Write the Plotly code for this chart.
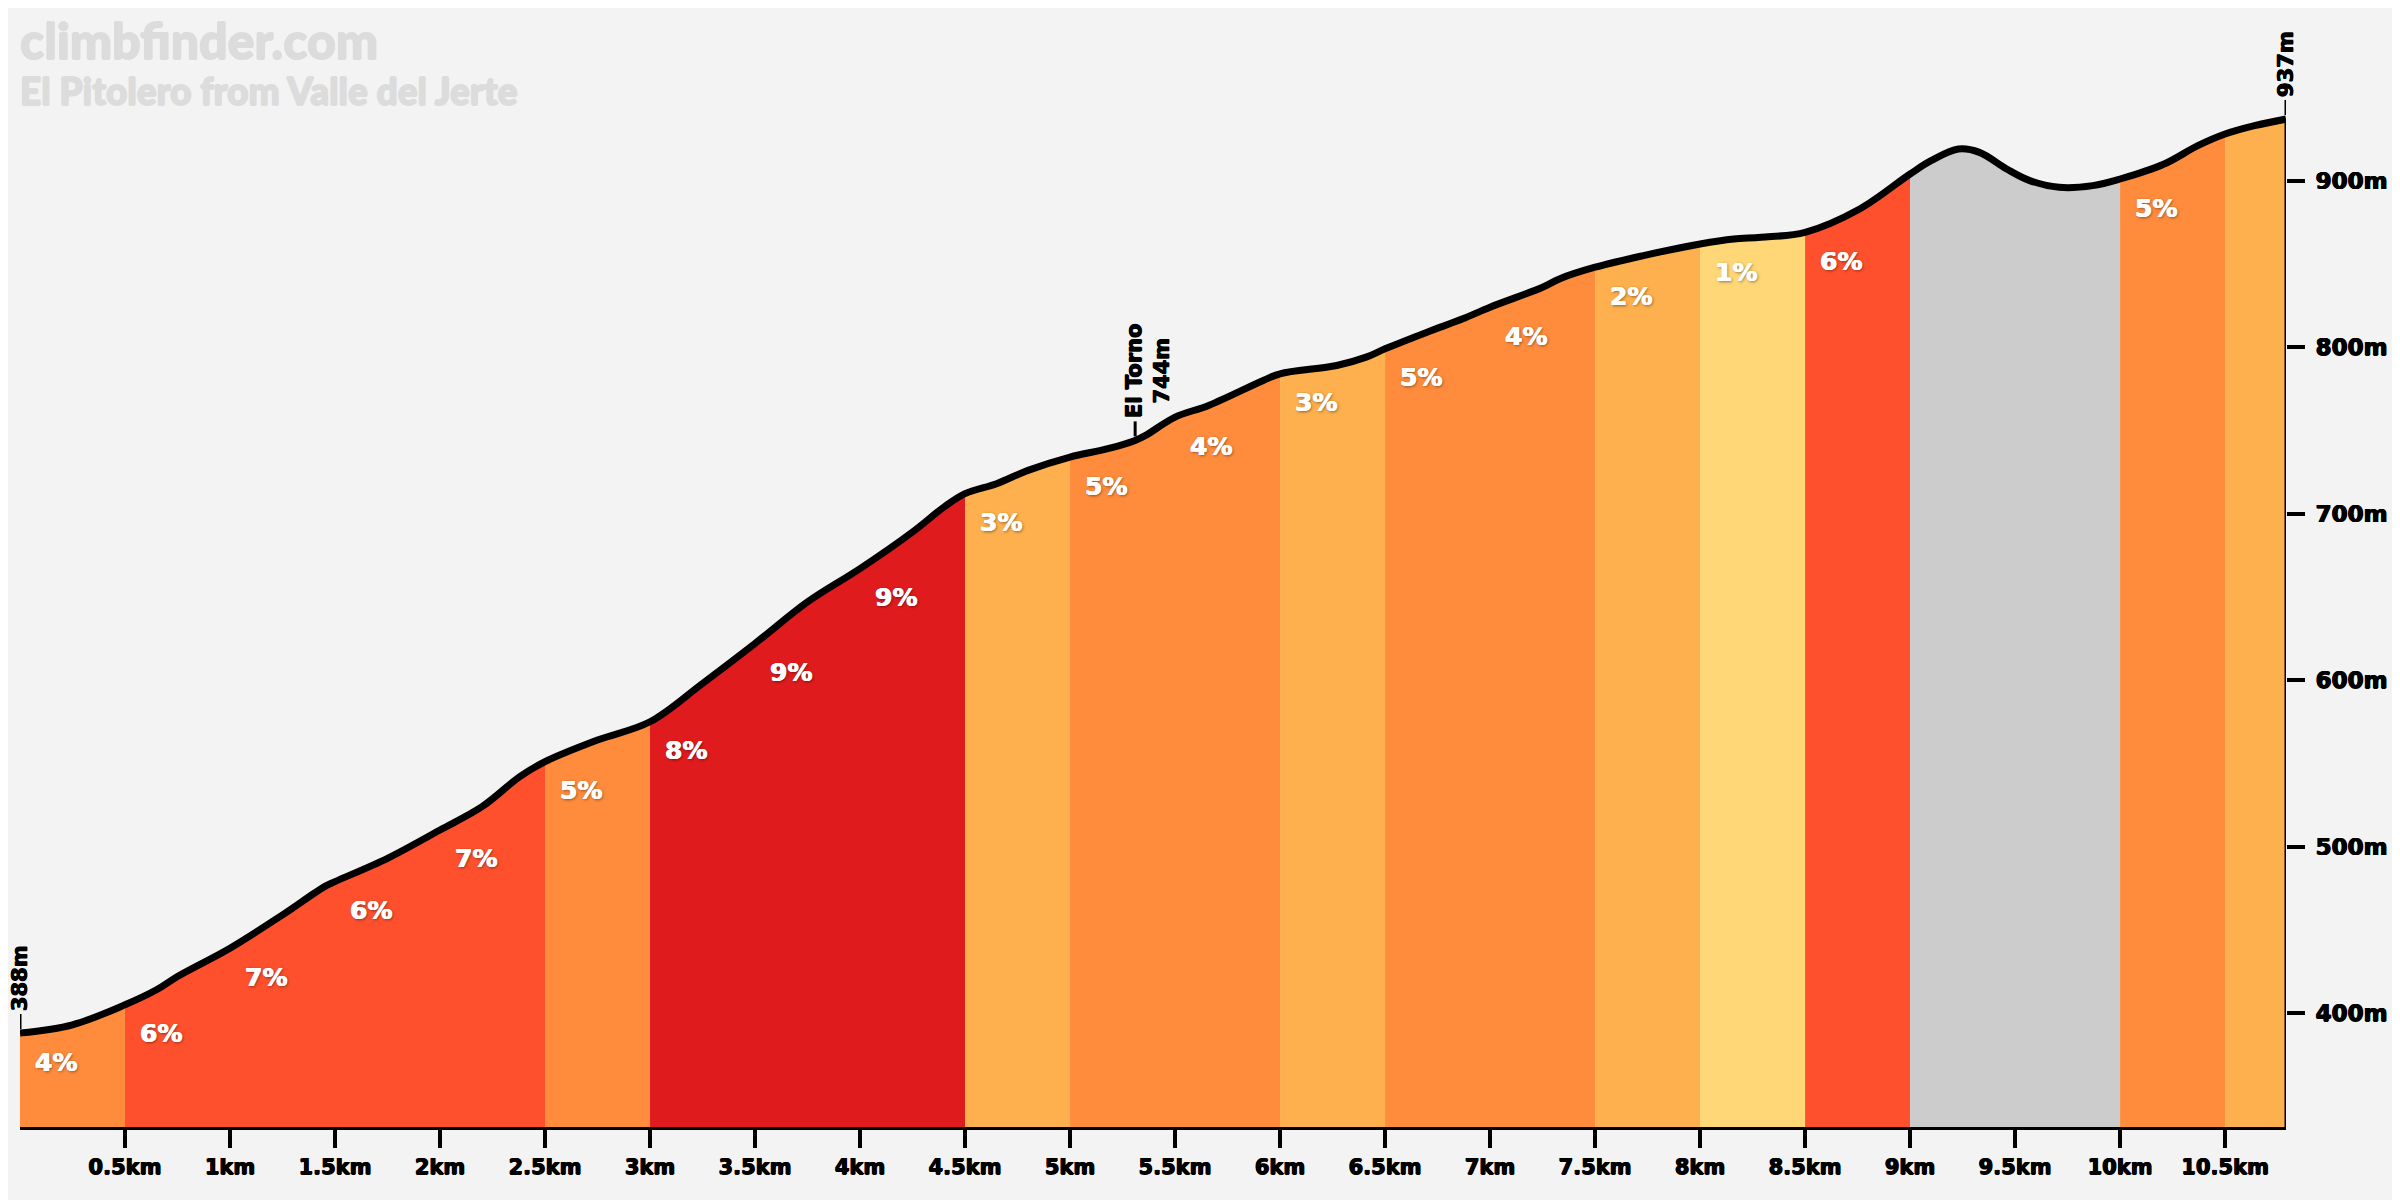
import plotly.graph_objects as go

# ---- data ----
dist_km = [0.0, 0.25, 0.5, 0.65, 0.75, 1.0, 1.25, 1.45, 1.5, 1.75, 2.0, 2.2, 2.38, 2.5,
           2.75, 3.0, 3.25, 3.5, 3.75, 4.0, 4.25, 4.4, 4.5, 4.65, 4.8, 5.0, 5.18, 5.31,
           5.36, 5.5, 5.66, 5.92, 6.0, 6.27, 6.41, 6.5, 6.7, 6.87, 7.0, 7.25, 7.33, 7.5,
           7.73, 8.0, 8.16, 8.29, 8.5, 8.76, 9.0, 9.1, 9.23, 9.33, 9.46, 9.57, 9.71, 9.87,
           10.0, 10.21, 10.37, 10.5, 10.64, 10.79]
elev_m = [388, 393, 405, 414, 422, 439, 459, 476, 479, 493, 510, 524, 542, 551,
          564, 575, 598, 622, 647, 667, 689, 704, 712, 718, 726, 734, 739, 744,
          747, 758, 765, 780, 784, 789, 794, 799, 809, 817, 824, 836, 841, 848,
          855, 862, 865, 866, 869, 883, 904, 912, 919, 917, 907, 900, 896, 897,
          901, 910, 921, 928, 933, 937]

seg_start = [0.0, 0.5, 1.0, 1.5, 2.0, 2.5, 3.0, 3.5, 4.0, 4.5, 5.0, 5.5, 6.0, 6.5,
             7.0, 7.5, 8.0, 8.5, 9.0, 9.5, 10.0, 10.5]
seg_label = ["4%", "6%", "7%", "6%", "7%", "5%", "8%", "9%", "9%", "3%", "5%", "4%",
             "3%", "5%", "4%", "2%", "1%", "6%", "", "", "5%", ""]
seg_color = ["#FF8C3D", "#FF502D", "#FF502D", "#FF502D", "#FF502D", "#FF8C3D",
             "#E01B1D", "#E01B1D", "#E01B1D", "#FDB04D", "#FF8C3D", "#FF8C3D",
             "#FDB04D", "#FF8C3D", "#FF8C3D", "#FDB04D", "#FFD776", "#FF502D",
             "#CCCCCC", "#CCCCCC", "#FF8C3D", "#FDB04D"]

x_tick_vals = [0.5, 1.0, 1.5, 2.0, 2.5, 3.0, 3.5, 4.0, 4.5, 5.0, 5.5, 6.0, 6.5, 7.0,
               7.5, 8.0, 8.5, 9.0, 9.5, 10.0, 10.5]
x_tick_text = ["0.5km", "1km", "1.5km", "2km", "2.5km", "3km", "3.5km", "4km", "4.5km",
               "5km", "5.5km", "6km", "6.5km", "7km", "7.5km", "8km", "8.5km", "9km",
               "9.5km", "10km", "10.5km"]
y_tick_vals = [400, 500, 600, 700, 800, 900]
y_tick_text = ["400m", "500m", "600m", "700m", "800m", "900m"]

markers = [(0.0, 388, "388m"), (5.31, 744, "El Torno<br>744m"), (10.79, 937, "937m")]

title_main = "climbfinder.com"
title_sub = "El Pitolero from Valle del Jerte"

Y_RANGE = [331.6, 996.5]
X_RANGE = [0, dist_km[-1]]

BG = "#F3F3F3"
FONT = "DejaVu Sans"
BLACK_STROKE = "0.6px 0 0 black, -0.6px 0 0 black, 0 0.4px 0 black"
WHITE_STROKE = "0.6px 0 0 white, -0.4px 0 0 white, 1px 1px 3px rgba(0,0,0,0.45)"
TITLE_STROKE = "0.8px 0 0 #DCDCDC, -0.8px 0 0 #DCDCDC, 0 0.8px 0 #DCDCDC, 0 -0.8px 0 #DCDCDC"

fig = go.Figure()

# coloured fills, merging consecutive segments with same colour
seg_end = seg_start[1:] + [dist_km[-1]]
i = 0
n = len(seg_start)
while i < n:
    j = i
    while j + 1 < n and seg_color[j + 1] == seg_color[i]:
        j += 1
    a, b = seg_start[i], seg_end[j]
    xs = [d for d in dist_km if a - 1e-9 <= d <= b + 1e-9]
    ys = [e for d, e in zip(dist_km, elev_m) if a - 1e-9 <= d <= b + 1e-9]
    fig.add_trace(go.Scatter(x=xs, y=ys, mode="lines", fill="tozeroy",
                             fillcolor=seg_color[i], line=dict(width=0, shape="spline", color=seg_color[i]),
                             hoverinfo="skip", showlegend=False))
    i = j + 1

# profile line
fig.add_trace(go.Scatter(x=dist_km, y=elev_m, mode="lines",
                         line=dict(color="black", width=7, shape="spline"),
                         hoverinfo="skip", showlegend=False))

# right edge vertical line
fig.add_shape(type="line", xref="x", yref="y", x0=dist_km[-1], x1=dist_km[-1],
              y0=Y_RANGE[0], y1=elev_m[-1], line=dict(color="black", width=3))

# percentage labels
def elev_at(km):
    for k in range(len(dist_km) - 1):
        if dist_km[k] <= km <= dist_km[k + 1]:
            t = (km - dist_km[k]) / (dist_km[k + 1] - dist_km[k])
            return elev_m[k] + t * (elev_m[k + 1] - elev_m[k])
    return elev_m[-1]

for s, lab in zip(seg_start, seg_label):
    if not lab:
        continue
    fig.add_annotation(x=s, y=elev_at(s), text=lab, showarrow=False,
                       xanchor="left", yanchor="middle", xshift=13, yshift=-29,
                       font=dict(family=FONT, size=25, color="white", weight="bold",
                                 shadow=WHITE_STROKE))

# point markers (tick + rotated text)
for km, el, txt in markers:
    fig.add_shape(type="line", xref="x", yref="y", x0=km, x1=km,
                  ysizemode="pixel", yanchor=el, y0=4, y1=19,
                  line=dict(color="black", width=3))
    nlines = txt.count("<br>") + 1
    fig.add_annotation(x=km, y=el, text=txt, showarrow=False, textangle=-90,
                       xanchor="center", yanchor="bottom", yshift=20,
                       xshift=13 * (nlines - 1),
                       font=dict(family=FONT, size=21, color="black", weight="bold",
                                 shadow=BLACK_STROKE))

# titles
fig.add_annotation(xref="paper", yref="paper", x=0, y=1, xanchor="left", yanchor="top",
                   text=title_main, showarrow=False, xshift=-2, yshift=12,
                   font=dict(family="Lato", size=50, color="#DCDCDC", weight=900,
                             shadow=TITLE_STROKE))
fig.add_annotation(xref="paper", yref="paper", x=0, y=1, xanchor="left", yanchor="top",
                   text=title_sub, showarrow=False, xshift=-2, yshift=-46,
                   font=dict(family="Lato", size=37, color="#DCDCDC", weight=900,
                             shadow=TITLE_STROKE))

fig.update_layout(
    width=2392, height=1192,
    margin=dict(l=12, r=114, t=12, b=73),
    paper_bgcolor=BG, plot_bgcolor=BG,
    xaxis=dict(range=X_RANGE, showgrid=False, zeroline=False,
               showline=True, linecolor="black", linewidth=3,
               tickmode="array", tickvals=x_tick_vals, ticktext=x_tick_text,
               ticks="outside", ticklen=18, tickwidth=4, tickcolor="black",
               ticklabelstandoff=1,
               tickfont=dict(family=FONT, size=21, color="black", weight="bold",
                             shadow=BLACK_STROKE)),
    yaxis=dict(range=Y_RANGE, side="right", showgrid=False, zeroline=False,
               showline=False,
               tickmode="array", tickvals=y_tick_vals, ticktext=y_tick_text,
               ticks="outside", ticklen=18, tickwidth=4, tickcolor="black",
               ticklabelstandoff=6,
               tickfont=dict(family=FONT, size=23, color="black", weight="bold",
                             shadow=BLACK_STROKE)),
)

fig.write_html("out.html")
